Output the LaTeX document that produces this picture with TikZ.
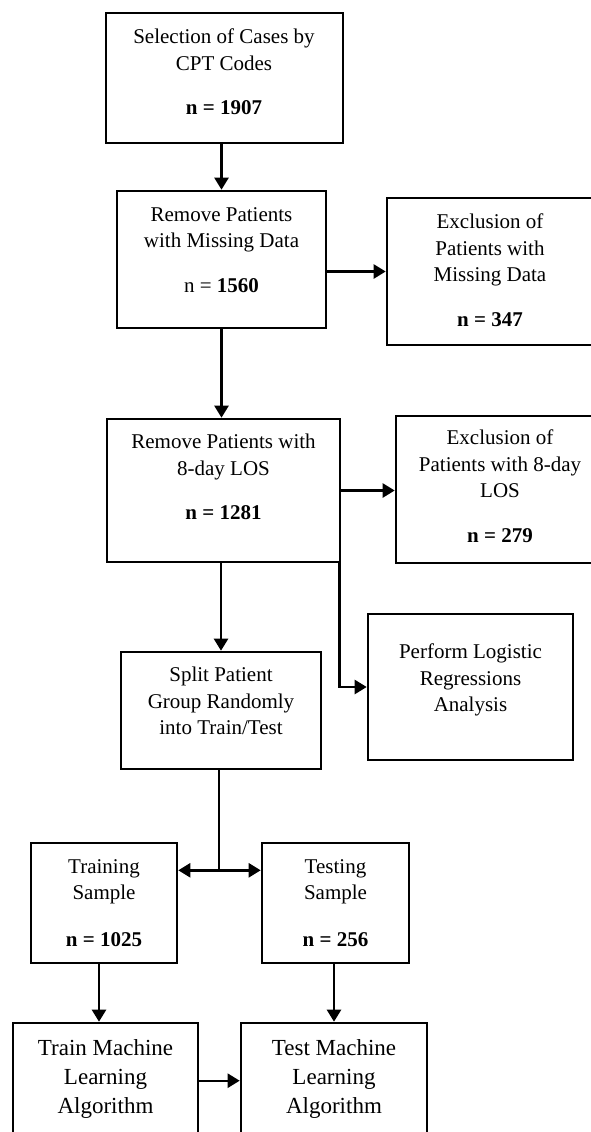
\documentclass[tikz,border=0pt]{standalone}
\usepackage{fontspec}
\setmainfont{Liberation Serif}
\usetikzlibrary{arrows.meta,calc}
\tikzset{
  box/.style={draw, line width=2.6pt, rectangle, inner sep=0pt, fill=none},
  txt/.style={anchor=north, align=center, inner sep=0pt, font=\fontsize{21}{26.5}\selectfont},
  bigtxt/.style={anchor=north, align=center, inner sep=0pt, font=\fontsize{23}{29}\selectfont},
  arr/.style={line width=2.4pt, -{Triangle[length=12pt,width=14pt]}},
  ln/.style={line width=2.4pt}
}
\begin{document}
\begin{tikzpicture}[x=1pt,y=-1pt]
\useasboundingbox (0,0) rectangle (591,1132);
\fill[white] (0,0) rectangle (591,1132);
\clip (0,0) rectangle (591,1132);
% boxes
\node[box, minimum width=237pt, minimum height=130pt] (b1) at (224.5,78) {};
\node[box, minimum width=209pt, minimum height=137pt] (b2) at (221.5,259.5) {};
\node[box, minimum width=207pt, minimum height=147pt] (b3) at (490.5,271.5) {};
\node[box, minimum width=233pt, minimum height=143pt] (b4) at (223.5,490.5) {};
\node[box, minimum width=208pt, minimum height=147pt] (b5) at (500,489.5) {};
\node[box, minimum width=200pt, minimum height=117pt] (b6) at (221,710.5) {};
\node[box, minimum width=205pt, minimum height=146pt] (b7) at (470.5,687) {};
\node[box, minimum width=146pt, minimum height=120pt] (b8) at (104,903) {};
\node[box, minimum width=147pt, minimum height=120pt] (b9) at (335.5,903) {};
\node[box, minimum width=185pt, minimum height=130pt] (b10) at (105.5,1088) {};
\node[box, minimum width=186pt, minimum height=130pt] (b11) at (334,1088) {};
% texts
\node[txt] (t1) at (224,29) {Selection of Cases by\\CPT Codes\\[18pt]\textbf{n = 1907}};
\node[txt] (t2) at (221.5,207) {Remove Patients\\with Missing Data\\[18pt]n = \textbf{1560}};
\node[txt] (t3) at (490,214) {Exclusion of\\Patients with\\Missing Data\\[18pt]\textbf{n = 347}};
\node[txt] (t4) at (223.5,434) {Remove Patients with\\8-day LOS\\[18pt]\textbf{n = 1281}};
\node[txt] (t5) at (500,430) {Exclusion of\\Patients with 8-day\\LOS\\[18pt]\textbf{n = 279}};
\node[txt] (t6) at (221,667) {Split Patient\\Group Randomly\\into Train/Test};
\node[txt] (t7) at (470.5,644) {Perform Logistic\\Regressions\\Analysis};
\node[txt] (t8) at (104,859) {Training\\Sample\\[20pt]\textbf{n = 1025}};
\node[txt] (t9) at (335.5,859) {Testing\\Sample\\[20pt]\textbf{n = 256}};
\node[bigtxt] (t10) at (105.5,1039) {Train Machine\\Learning\\Algorithm};
\node[bigtxt] (t11) at (334,1039) {Test Machine\\Learning\\Algorithm};
% connectors
\draw[arr] (b2.north |- b1.south) -- (b2.north);
\draw[arr] (b2.east |- b3.west) -- (b3.west);
\draw[arr] (b2.south) -- (b2.south |- b4.north);
\draw[arr] (b4.east) -- (b4.east -| b5.west);
\draw[arr] (b6.north |- b4.south) -- (b6.north);
\coordinate (k) at ($(b4.south east)+(-2,0)$);
\draw[arr] (k) |- (b7.west);
\coordinate (j) at ($(b6.south)+(-2,100)$);
\draw[ln] (b6.south -| j) -- (j);
\draw[arr] (j) -- (j -| b8.east);
\draw[arr] (j) -- (j -| b9.west);
\coordinate (m) at ($(b8.south)+(-5,0)$);
\draw[arr] (m) -- (m |- b10.north);
\draw[arr] (b11.north |- b9.south) -- (b11.north);
\coordinate (p) at ($(b10.north east)+(0,59)$);
\draw[arr] (p) -- (p -| b11.west);
\end{tikzpicture}
\end{document}
